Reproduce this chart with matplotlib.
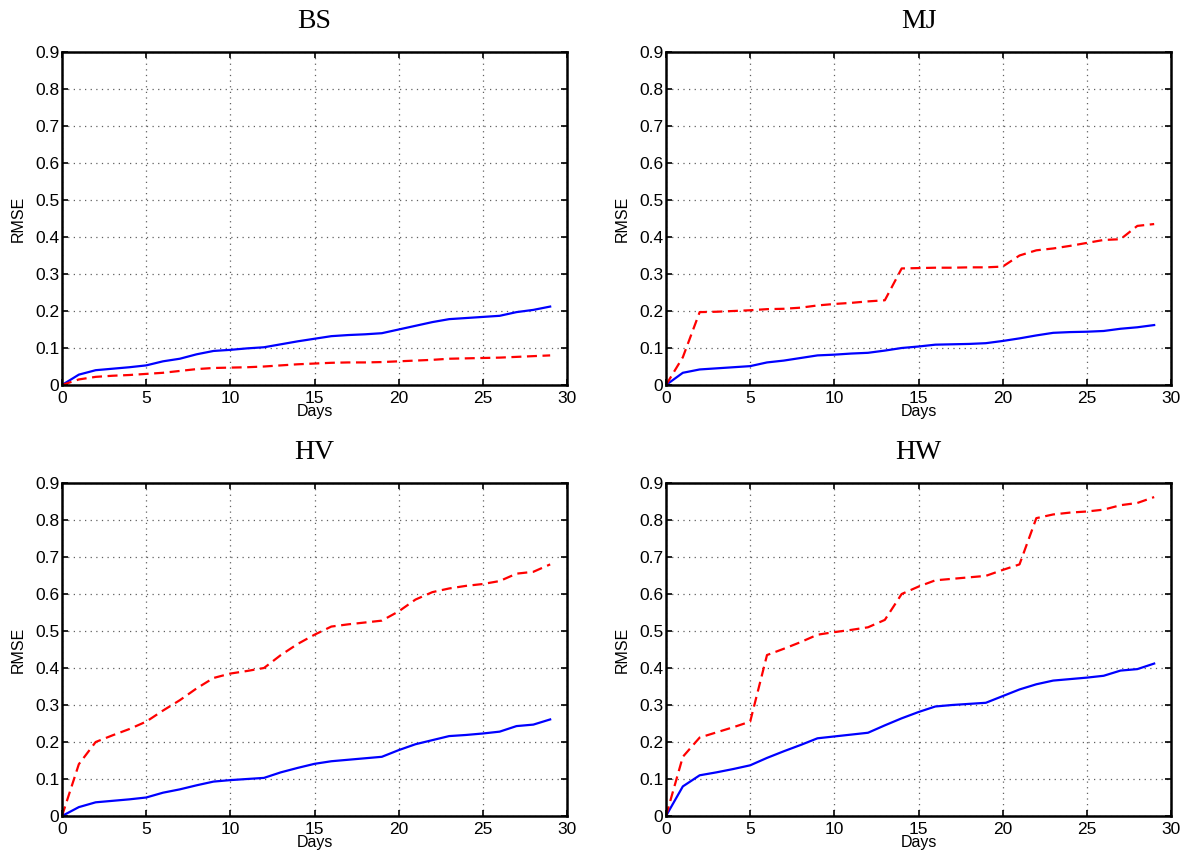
import matplotlib
matplotlib.use('Agg')
import matplotlib.pyplot as plt

days = list(range(30))
titles = ['BS', 'MJ', 'HV', 'HW']

bs_blue = [0, 0.028, 0.040, 0.044, 0.048, 0.053, 0.064, 0.071, 0.083, 0.092,
           0.095, 0.099, 0.102, 0.110, 0.118, 0.125, 0.132, 0.135, 0.137, 0.140,
           0.150, 0.160, 0.170, 0.178, 0.181, 0.184, 0.187, 0.197, 0.203, 0.212]
bs_red = [0, 0.015, 0.022, 0.025, 0.027, 0.030, 0.033, 0.038, 0.043, 0.046,
          0.047, 0.048, 0.050, 0.053, 0.056, 0.058, 0.060, 0.061, 0.061, 0.062,
          0.064, 0.066, 0.068, 0.071, 0.072, 0.073, 0.074, 0.076, 0.078, 0.080]

mj_blue = [0, 0.033, 0.042, 0.045, 0.048, 0.051, 0.061, 0.066, 0.073, 0.080,
           0.082, 0.085, 0.087, 0.093, 0.100, 0.104, 0.109, 0.110, 0.111, 0.113,
           0.119, 0.126, 0.134, 0.141, 0.143, 0.144, 0.146, 0.152, 0.156, 0.162]
mj_red = [0, 0.075, 0.197, 0.198, 0.200, 0.202, 0.205, 0.206, 0.209, 0.215,
          0.219, 0.222, 0.226, 0.229, 0.315, 0.316, 0.317, 0.317, 0.318, 0.318,
          0.320, 0.350, 0.364, 0.369, 0.376, 0.384, 0.392, 0.394, 0.430, 0.435]

hv_blue = [0, 0.024, 0.037, 0.041, 0.045, 0.050, 0.063, 0.072, 0.083, 0.093,
           0.097, 0.100, 0.103, 0.118, 0.130, 0.141, 0.148, 0.152, 0.156, 0.160,
           0.178, 0.194, 0.205, 0.216, 0.219, 0.223, 0.228, 0.243, 0.247, 0.261]
hv_red = [0, 0.140, 0.200, 0.218, 0.235, 0.255, 0.285, 0.313, 0.345, 0.373,
          0.385, 0.392, 0.400, 0.435, 0.465, 0.490, 0.512, 0.518, 0.523, 0.528,
          0.553, 0.585, 0.605, 0.615, 0.622, 0.627, 0.635, 0.655, 0.660, 0.680]

hw_blue = [0, 0.080, 0.110, 0.118, 0.127, 0.137, 0.157, 0.175, 0.192, 0.210,
           0.215, 0.220, 0.225, 0.245, 0.264, 0.281, 0.296, 0.300, 0.303, 0.306,
           0.324, 0.342, 0.356, 0.366, 0.370, 0.374, 0.379, 0.393, 0.397, 0.412]
hw_red = [0, 0.160, 0.212, 0.226, 0.240, 0.255, 0.435, 0.452, 0.470, 0.490,
          0.497, 0.503, 0.510, 0.530, 0.600, 0.620, 0.637, 0.641, 0.645, 0.649,
          0.665, 0.680, 0.805, 0.815, 0.820, 0.823, 0.828, 0.840, 0.846, 0.862]

blue_series = [bs_blue, mj_blue, hv_blue, hw_blue]
red_series = [bs_red, mj_red, hv_red, hw_red]

plt.rcParams['font.family'] = ['Liberation Sans', 'DejaVu Sans']

fig = plt.figure(figsize=(11.89, 8.56), dpi=100)
W, H = 1189, 856
# axes boxes in pixels: left, top, right, bottom
boxes = [(62, 52, 567, 385), (666, 52, 1171, 385),
         (62, 483, 567, 816), (666, 483, 1171, 816)]

for i, (l, t, r, b) in enumerate(boxes):
    ax = fig.add_axes([l / W, 1 - b / H, (r - l) / W, (b - t) / H])
    ax.plot(days, blue_series[i], color='#0000ff', lw=1.6)
    ax.plot(days, red_series[i], color='#ff0000', lw=1.6, ls='--', dashes=(4.5, 2.5))
    ax.set_xlim(0, 30)
    ax.set_ylim(0, 0.9)
    ax.set_xticks(range(0, 31, 5))
    ax.set_yticks([j / 10 for j in range(10)])
    ax.set_yticklabels(['0'] + ['0.%d' % j for j in range(1, 10)])
    ax.grid(True, ls=(0, (1, 3.5)), color='#606060', lw=0.9)
    ax.tick_params(direction='in', top=True, right=True, labelsize=12.5,
                   length=4, width=1.2)
    ax.tick_params(axis='x', pad=4)
    ax.tick_params(axis='y', pad=2)
    for s in ax.spines.values():
        s.set_linewidth(1.8)
    ax.set_xlabel('Days', fontsize=11.5, labelpad=-1)
    ax.set_ylabel('RMSE', fontsize=11.5, labelpad=7)
    ax.set_title(titles[i], fontsize=20, family='Liberation Serif', pad=17)

fig.savefig('out.png', dpi=100)
